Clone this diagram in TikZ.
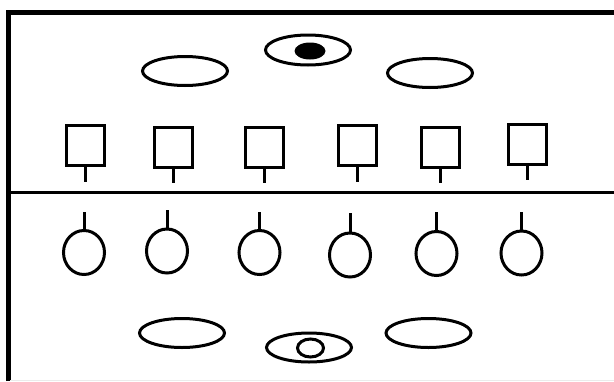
\documentclass[tikz,border=0pt]{standalone}
\usetikzlibrary{shapes.geometric}
\begin{document}
\begin{tikzpicture}[x=1pt,y=-1pt,
  shp/.style={draw=black,line width=3pt,inner sep=0pt,outer sep=0pt},
  oval/.style={shp,ellipse,minimum width=85pt,minimum height=29pt},
  box/.style={shp,rectangle,minimum width=38pt,minimum height=40pt},
  ring/.style={shp,ellipse,minimum width=41pt,minimum height=44pt},
  stem/.style={line width=3pt},
  frame/.style={line width=5pt}]
\useasboundingbox (0,0) rectangle (614,381);
% frame
\coordinate (bl) at (8,381);
\coordinate (tl) at (8,12.5);
\coordinate (tr) at (614,12.5);
\coordinate (ml) at (8,192.5);
\coordinate (mr) at (614,192.5);
\draw[frame] (bl) -- (tl) -- (tr);
\draw[line width=3.5pt] (ml) -- (mr);
\coordinate (fb1) at (10,380);
\coordinate (fb2) at (614,380);
\draw[black!8,line width=1pt] (fb1) -- (fb2);
% top ovals
\node[oval] (tovl) at (185,71) {};
\node[oval] (tovr) at (430,73) {};
\node[oval,minimum height=30pt] (teye) at (308,50) {};
\node[fill=black,ellipse,inner sep=0pt,minimum width=31pt,minimum height=17pt] (tpupil) at (310,51) {};
% bottom ovals
\node[oval] (bovl) at (182,333) {};
\node[oval] (bovr) at (428.5,333) {};
\node[oval] (beye) at (309,347.5) {};
\node[shp,ellipse,minimum width=26pt,minimum height=18pt] (bpupil) at (310.5,348) {};
% boxes with stems
\foreach \i/\x/\y/\e in {1/85/145.5/182,2/173/147/183,3/264/147/183,4/357/145/182,5/440/147/183,6/527/144/180}{
  \node[box] (s\i) at (\x,\y) {};
  \coordinate (se\i) at (\x,\e);
  \draw[stem] (s\i.south) -- (se\i);
}
% circles with stems
\foreach \i/\x/\y/\t in {1/84/252.5/212,2/167/251/210,3/259.5/252.5/212,4/350/255/213,5/436.5/253.5/212,6/521.5/253/212}{
  \node[ring] (c\i) at (\x,\y) {};
  \coordinate (ct\i) at (\x,\t);
  \draw[stem] (c\i.north) -- (ct\i);
}
\end{tikzpicture}
\end{document}
